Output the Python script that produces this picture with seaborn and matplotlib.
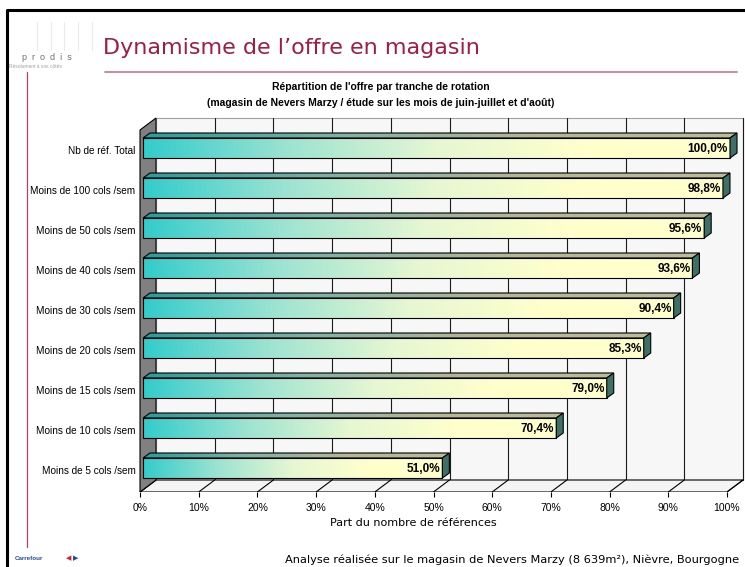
import numpy as np
import pandas as pd
import matplotlib
matplotlib.use('Agg')
import matplotlib.pyplot as plt
import seaborn as sns
from matplotlib.patches import Polygon
from matplotlib.lines import Line2D
from matplotlib.transforms import ScaledTranslation
from matplotlib.colors import LinearSegmentedColormap

categories = ['Nb de réf. Total', 'Moins de 100 cols /sem', 'Moins de 50 cols /sem',
              'Moins de 40 cols /sem', 'Moins de 30 cols /sem', 'Moins de 20 cols /sem',
              'Moins de 15 cols /sem', 'Moins de 10 cols /sem', 'Moins de 5 cols /sem']
values = [100.0, 98.8, 95.6, 93.6, 90.4, 85.3, 79.0, 70.4, 51.0]
ticks = list(range(0, 101, 10))
tick_labels = [f'{t}%' for t in ticks]

title = "Dynamisme de l\u2019offre en magasin"
chart_title = ["Répartition de l'offre par tranche de rotation",
               "(magasin de Nevers Marzy / étude sur les mois de juin-juillet et d'août)"]
xlabel = "Part du nombre de références"
footer = "Analyse réalisée sur le magasin de Nevers Marzy (8 639m²), Nièvre, Bourgogne"

sns.set_style('white')
plt.rcParams['font.family'] = ['Liberation Sans', 'DejaVu Sans']
plt.rcParams['text.color'] = 'black'
plt.rcParams['xtick.color'] = 'black'
plt.rcParams['ytick.color'] = 'black'
plt.rcParams['axes.labelcolor'] = 'black'

W, H = 745, 567
fig = plt.figure(figsize=(W / 100, H / 100), dpi=100)
fig.patch.set_facecolor('white')

# axes: left 137px, right 745px, top 115px, bottom (floor front) 492px
ax = fig.add_axes([137 / W, 1 - 492 / H, (W - 137) / W, (492 - 115) / H])

df = pd.DataFrame({'cat': categories, 'val': values})
sns.barplot(data=df, x='val', y='cat', orient='h', width=0.5, color='#33CCCC',
            edgecolor='black', linewidth=0.8, ax=ax, zorder=5)
bars = list(ax.patches)

# front plane: 0% at 140px, 5.87 px per %, rows every 40px starting at 150px
ax.set_xlim((137 - 140) / 5.87, (W - 140) / 5.87)
ax.set_ylim((492 - 150) / 40, (115 - 150) / 40)
ax.set_autoscale_on(False)
y_floor = (492 - 150) / 40
y_top = (130 - 150) / 40
DX, DY = 16, 12


def shifted(dx, dy):
    return ax.transData + ScaledTranslation(dx / 100, dy / 100, fig.dpi_scale_trans)


def shift(x, y, dx, dy):
    p = ax.transData.transform((x, y)) + np.array([dx, dy])
    return tuple(ax.transData.inverted().transform(p))


# back wall with gridlines
wall = [shift(0, y_floor, DX, DY), shift(100, y_floor, DX, DY),
        shift(100, y_top, DX, DY), shift(0, y_top, DX, DY)]
ax.add_patch(Polygon(wall, closed=True, facecolor='#F7F7F7', edgecolor='#A0A0A0', lw=0.8, zorder=0))
for t in ticks[1:]:
    a, b = shift(t, y_floor, DX, DY), shift(t, y_top, DX, DY)
    ax.plot([a[0], b[0]], [a[1], b[1]], color='#1A1A1A', lw=0.8, zorder=1)

# floor
floor = [(0, y_floor), (100, y_floor), shift(100, y_floor, DX, DY), shift(0, y_floor, DX, DY)]
ax.add_patch(Polygon(floor, closed=True, facecolor='#F4F4F4', edgecolor='black', lw=0.8, zorder=1))
for t in ticks:
    a = shift(t, y_floor, DX, DY)
    ax.plot([t, a[0]], [y_floor, a[1]], color='black', lw=0.8, zorder=1)

# left wall
lwall = [(0, y_top), (0, y_floor), shift(0, y_floor, DX, DY), shift(0, y_top, DX, DY)]
ax.add_patch(Polygon(lwall, closed=True, facecolor='#808080', edgecolor='black', lw=0.8, zorder=2))

front_cmap = LinearSegmentedColormap.from_list('front', ['#33CCCC', '#9EE3D2', '#E6F7D2', '#FFFFCC', '#FFFFCC'])
top_cmap = LinearSegmentedColormap.from_list('top', ['#2E9A9A', '#7FB3A6', '#B5B795', '#BDBD9A'])
grad = np.linspace(0, 1, 256).reshape(1, -1)

tb = shifted(3, 2)
BDX, BDY = 7, 5
for p, v in zip(bars, values):
    p.set_transform(tb)
    x, y, w, h = p.get_x(), p.get_y(), p.get_width(), p.get_height()
    im = ax.imshow(grad, extent=(x, x + w, y + h, y), aspect='auto', cmap=front_cmap,
                   transform=tb, zorder=4, interpolation='bilinear')
    im.set_clip_path(p)
    p.set_facecolor('none')

    yb = min(y, y + h)
    ybot = max(y, y + h)
    br = shift(x + w, yb, BDX, BDY)
    bl = shift(x, yb, BDX, BDY)
    top = Polygon([(x, yb), (x + w, yb), br, bl], closed=True, facecolor='none',
                  edgecolor='black', lw=0.8, transform=tb, zorder=5)
    ax.add_patch(top)
    im2 = ax.imshow(grad, extent=(x, br[0], yb, br[1]), aspect='auto', cmap=top_cmap,
                    transform=tb, zorder=4, interpolation='bilinear')
    im2.set_clip_path(top)

    side = Polygon([(x + w, yb), (x + w, ybot), shift(x + w, ybot, BDX, BDY), br], closed=True,
                   facecolor='#3E7068', edgecolor='black', lw=0.8, transform=tb, zorder=5)
    ax.add_patch(side)

    ax.text(x + w, y + h / 2, f'{v:.1f}%'.replace('.', ','), transform=shifted(1, 1),
            ha='right', va='center', fontsize=8.5, fontweight='bold', color='black', zorder=6)

ax.set_xlim((137 - 140) / 5.87, (W - 140) / 5.87)
ax.set_ylim((492 - 150) / 40, (115 - 150) / 40)

ax.set_xticks(ticks)
ax.set_xticklabels(tick_labels)
ax.set_yticks(range(len(categories)))
ax.set_yticklabels(categories)
ax.tick_params(axis='y', length=0, pad=1, labelsize=7.2, labelcolor='black')
ax.tick_params(axis='x', length=3.6, width=0.8, direction='out', pad=4.3, labelsize=7.5,
               bottom=True, color='black', labelcolor='black')
ax.set_xlabel('')
ax.set_ylabel('')
for s in ax.spines.values():
    s.set_visible(False)
ax.patch.set_alpha(0)

# page decoration
fig.add_artist(Line2D([7 / W, 7 / W, 1], [0, 1 - 10 / H, 1 - 10 / H], transform=fig.transFigure,
                      color='black', lw=2.2))
fig.add_artist(Line2D([105 / W, 737 / W], [1 - 72 / H, 1 - 72 / H], transform=fig.transFigure,
                      color='#D08A9E', lw=1.4))
fig.add_artist(Line2D([27 / W, 27 / W], [1 - 72 / H, 1 - 547 / H], transform=fig.transFigure,
                      color='#B8405E', lw=0.9))
for bx in [37, 51, 64, 78, 92]:
    fig.add_artist(Line2D([bx / W, bx / W], [1 - 22 / H, 1 - 50 / H], transform=fig.transFigure,
                          color='#EBEBEB', lw=0.8))

fig.text(103 / W, 1 - 48 / H, title, color='#A01C40', fontsize=16, va='center', ha='left',
         family=['DejaVu Sans'])
fig.text(22 / W, 1 - 58 / H, 'p  r  o  d  i  s', color='#707070', fontsize=6.5, va='center', ha='left')
fig.text(9 / W, 1 - 67 / H, 'Résolument à vos côtés', color='#A0A0A0', fontsize=3.5, va='center', ha='left')
fig.text(381 / W, 1 - 87 / H, chart_title[0], fontsize=7.5, fontweight='bold', ha='center', va='center')
fig.text(381 / W, 1 - 103 / H, chart_title[1], fontsize=7.5, fontweight='bold', ha='center', va='center')
fig.text(413 / W, 1 - 523 / H, xlabel, fontsize=8, ha='center', va='center', family=['DejaVu Sans'])
fig.text(285 / W, 1 - 560 / H, footer, fontsize=8.2, ha='left', va='center', family=['DejaVu Sans'])
fig.text(15 / W, 1 - 558 / H, 'Carrefour', color='#1F4E9C', fontsize=4.5, fontweight='bold',
         ha='left', va='center')
fig.text(66 / W, 1 - 558 / H, '\u25c0', color='#D8202A', fontsize=5, ha='left', va='center',
         family=['DejaVu Sans'])
fig.text(73 / W, 1 - 558 / H, '\u25b6', color='#1F4E9C', fontsize=5, ha='left', va='center',
         family=['DejaVu Sans'])

fig.savefig('out.png', dpi=100)
